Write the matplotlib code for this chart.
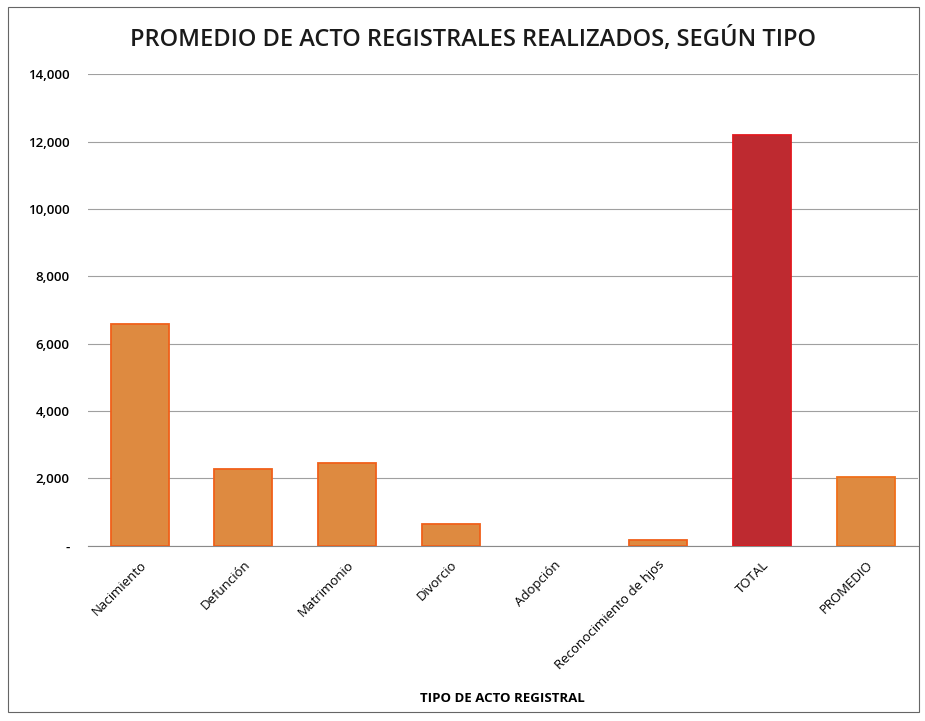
import matplotlib
matplotlib.use("Agg")
import matplotlib.pyplot as plt
from matplotlib.ticker import FuncFormatter
from matplotlib.patches import Rectangle

categories = ["Nacimiento", "Defunción", "Matrimonio", "Divorcio", "Adopción",
              "Reconocimiento de hjos", "TOTAL", "PROMEDIO"]
values = [6600, 2280, 2470, 640, 3, 180, 12190, 2032]
colors = ["#DE8A40"] * 6 + ["#BE2A30", "#DE8A40"]
edges = ["#F0601A"] * 6 + ["#E01A20", "#F0701A"]
yticks = [0, 2000, 4000, 6000, 8000, 10000, 12000, 14000]

plt.rcParams['font.family'] = ['Open Sans', 'DejaVu Sans']

fig = plt.figure(figsize=(9.25, 7.21), dpi=100)
ax = fig.add_axes([0.095, 0.243, 0.897, 0.654])

x = list(range(len(categories)))
lws = [1.3 if v > 50 else 0 for v in values]
ax.bar(x, values, width=0.56, color=colors, edgecolor=edges, linewidth=lws, zorder=3)
ax.set_xlim(-0.5, len(categories) - 0.5)
ax.set_ylim(0, 14000)
ax.set_yticks(yticks)
ax.yaxis.set_major_formatter(FuncFormatter(lambda v, p: "-" if v == 0 else f"{int(v):,}"))
ax.grid(axis="y", color="#a0a0a0", linewidth=0.8, zorder=0)
for s in ["top", "right", "left"]:
    ax.spines[s].set_visible(False)
ax.spines["bottom"].set_color("#8a8a8a")
ax.tick_params(axis="both", length=0, labelsize=9.5)
ax.tick_params(axis="y", pad=13)
ax.tick_params(axis="x", pad=9)
ax.set_xticks(x)
ax.set_xticklabels(categories, rotation=45, ha="right", rotation_mode="anchor", fontsize=9.5)
for lbl in ax.get_yticklabels():
    lbl.set_fontweight("semibold")
ax.set_xlabel("TIPO DE ACTO REGISTRAL", fontsize=9.5, fontweight="bold")
ax.xaxis.set_label_coords(0.5, -0.31)

fig.text(0.511, 0.945, "PROMEDIO DE ACTO REGISTRALES REALIZADOS, SEGÚN TIPO",
         ha="center", va="center", fontsize=17, fontweight="semibold", color="#1a1a1a")

# scanned frame border
fig.add_artist(Rectangle((0.009, 0.012), 0.985, 0.978, transform=fig.transFigure,
                         fill=False, edgecolor="#666666", linewidth=0.8))

fig.savefig("out.png", dpi=100)
